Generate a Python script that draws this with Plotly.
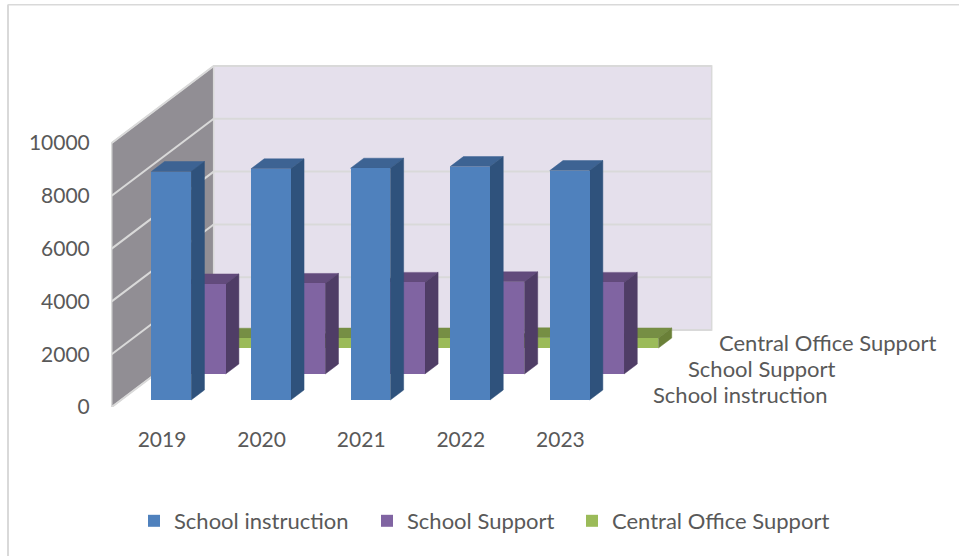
import plotly.graph_objects as go

# ---- data ----
years = ["2019", "2020", "2021", "2022", "2023"]
series_names = ["School instruction", "School Support", "Central Office Support"]
school_instruction = [8655, 8756, 8780, 8840, 8690]
school_support = [3410, 3430, 3470, 3490, 3470]
central_office = [370, 375, 380, 385, 380]
y_ticks = [0, 2000, 4000, 6000, 8000, 10000]

# ---- colours: front, top, side ----
colors = [("#4f81bd", "#3d6393", "#2f527c"),
          ("#8064a2", "#624b7c", "#4f3d66"),
          ("#9bbb59", "#768e44", "#6a8038")]
TEXT = "#595959"
WALL_BACK = "#e5e0ec"
WALL_SIDE = "#918e94"
GRID = "#d9d9d9"
FONT = "Lato"
FS = 22
FS_TICK = 21

# ---- oblique projection settings ----
W, H = 959, 556
L, R, T, B = 111, 950, 55, 407   # plot area in page pixels
PX_CAT = 99.6      # pixels per category
PX_VAL = 26.4 / 1000  # pixels per value unit
X0_PX = 162        # pixel of first category on the front plane
DEPTH_PX = (102, 77)  # full floor depth
DX = DEPTH_PX[0] / PX_CAT
DY = DEPTH_PX[1] / PX_VAL
ROW_FRAC = [7 / 77, 33 / 77, 59 / 77]
THICK = 10 / 77
BAR_W = 0.4
X_LEFT = -0.505
X_RIGHT = X_LEFT + len(years)
LABEL_GAP = [0.325, 0.325, 0.295]


def oblique(x, y, d):
    return x + d * DX, y + d * DY


fig = go.Figure()

# walls
fig.add_trace(go.Scatter(
    x=[X_LEFT, X_LEFT, X_LEFT + DX, X_LEFT + DX, X_LEFT],
    y=[0, y_ticks[-1], y_ticks[-1] + DY, DY, 0],
    mode="lines", fill="toself", fillcolor=WALL_SIDE,
    line=dict(color=GRID, width=1.5), showlegend=False, hoverinfo="skip", zorder=0))
fig.add_trace(go.Scatter(
    x=[X_LEFT + DX, X_RIGHT + DX, X_RIGHT + DX, X_LEFT + DX, X_LEFT + DX],
    y=[DY, DY, y_ticks[-1] + DY, y_ticks[-1] + DY, DY],
    mode="lines", fill="toself", fillcolor=WALL_BACK,
    line=dict(color=GRID, width=1.5), showlegend=False, hoverinfo="skip", zorder=0))

# gridlines along side wall then back wall
gx, gy = [], []
for v in y_ticks:
    gx += [X_LEFT, X_LEFT + DX, X_RIGHT + DX, None]
    gy += [v, v + DY, v + DY, None]
fig.add_trace(go.Scatter(x=gx, y=gy, mode="lines", line=dict(color=GRID, width=2),
                         showlegend=False, hoverinfo="skip", zorder=1))

# bars, back row first
all_values = [school_instruction, school_support, central_office]
z = 10
for row in [2, 1, 0]:
    vals = all_values[row]
    front, top, side = colors[row]
    d0 = ROW_FRAC[row]
    tx, ty, sx, sy = [], [], [], []
    xs, bases = [], []
    for i, v in enumerate(vals):
        cx, base = oblique(i, 0, d0)
        xs.append(cx)
        bases.append(base)
        xl, xr = cx - BAR_W / 2, cx + BAR_W / 2
        tx += [xl, xr, xr + THICK * DX, xl + THICK * DX, xl, None]
        ty += [base + v, base + v, base + v + THICK * DY, base + v + THICK * DY, base + v, None]
        sx += [xr, xr + THICK * DX, xr + THICK * DX, xr, xr, None]
        sy += [base, base + THICK * DY, base + v + THICK * DY, base + v, base, None]
    fig.add_trace(go.Scatter(x=tx, y=ty, mode="lines", fill="toself", fillcolor=top,
                             line=dict(color=top, width=0.5), showlegend=False,
                             hoverinfo="skip", zorder=z))
    fig.add_trace(go.Scatter(x=sx, y=sy, mode="lines", fill="toself", fillcolor=side,
                             line=dict(color=side, width=0.5), showlegend=False,
                             hoverinfo="skip", zorder=z))
    fig.add_trace(go.Bar(x=xs, y=vals, base=bases, width=BAR_W, name=series_names[row],
                         marker=dict(color=front, line=dict(width=0)),
                         legend="legend" if row == 0 else f"legend{row + 1}",
                         zorder=z + 1))
    z += 2

# depth axis labels
annotations = [
    dict(x=X_RIGHT + ROW_FRAC[r] * DX + LABEL_GAP[r], y=ROW_FRAC[r] * DY + 190,
         text=series_names[r], showarrow=False,
         xanchor="left", yanchor="middle", font=dict(family=FONT, size=FS, color=TEXT))
    for r in range(3)
]

# legends: one per series so that each sits at its own place
def lx(px):
    return (px - L) / (R - L)

def ly(py):
    return (B - py) / (B - T)

legend_px = [134, 367, 572]
legend_common = dict(orientation="h", xanchor="left", yanchor="middle", y=ly(521),
                     bgcolor="rgba(0,0,0,0)", font=dict(family=FONT, size=FS, color=TEXT))

fig.update_layout(
    width=W, height=H,
    margin=dict(l=L, r=W - R, t=T, b=H - B, autoexpand=False),
    paper_bgcolor="white", plot_bgcolor="white",
    barmode="overlay", bargap=0,
    font=dict(family=FONT, size=FS, color=TEXT),
    annotations=annotations,
    xaxis=dict(range=[(L - X0_PX) / PX_CAT, (R - X0_PX) / PX_CAT],
               tickmode="array", tickvals=list(range(len(years))), ticktext=years,
               showgrid=False, zeroline=False, showline=False,
               ticks="outside", ticklen=14, tickcolor="rgba(0,0,0,0)",
               tickfont=dict(family=FONT, size=FS_TICK, color=TEXT)),
    yaxis=dict(range=[0, (B - T) / PX_VAL],
               tickmode="array", tickvals=y_ticks, ticktext=[str(v) for v in y_ticks],
               showgrid=False, zeroline=False, showline=False,
               ticks="outside", ticklen=16, tickcolor="rgba(0,0,0,0)",
               tickfont=dict(family=FONT, size=FS_TICK, color=TEXT)),
    legend=dict(x=lx(legend_px[0]), **legend_common),
    legend2=dict(x=lx(legend_px[1]), **legend_common),
    legend3=dict(x=lx(legend_px[2]), **legend_common),
    shapes=[
        dict(type="line", xref="paper", yref="paper", x0=lx(8), x1=lx(8), y0=ly(H), y1=ly(4.5),
             line=dict(color=GRID, width=2)),
        dict(type="line", xref="paper", yref="paper", x0=lx(8), x1=lx(W), y0=ly(4.8), y1=ly(4.8),
             line=dict(color=GRID, width=1.5)),
    ],
)

fig.write_html("out.html", config={"displayModeBar": False},
               post_script="document.body.style.margin='0';document.body.style.overflow='hidden';")
